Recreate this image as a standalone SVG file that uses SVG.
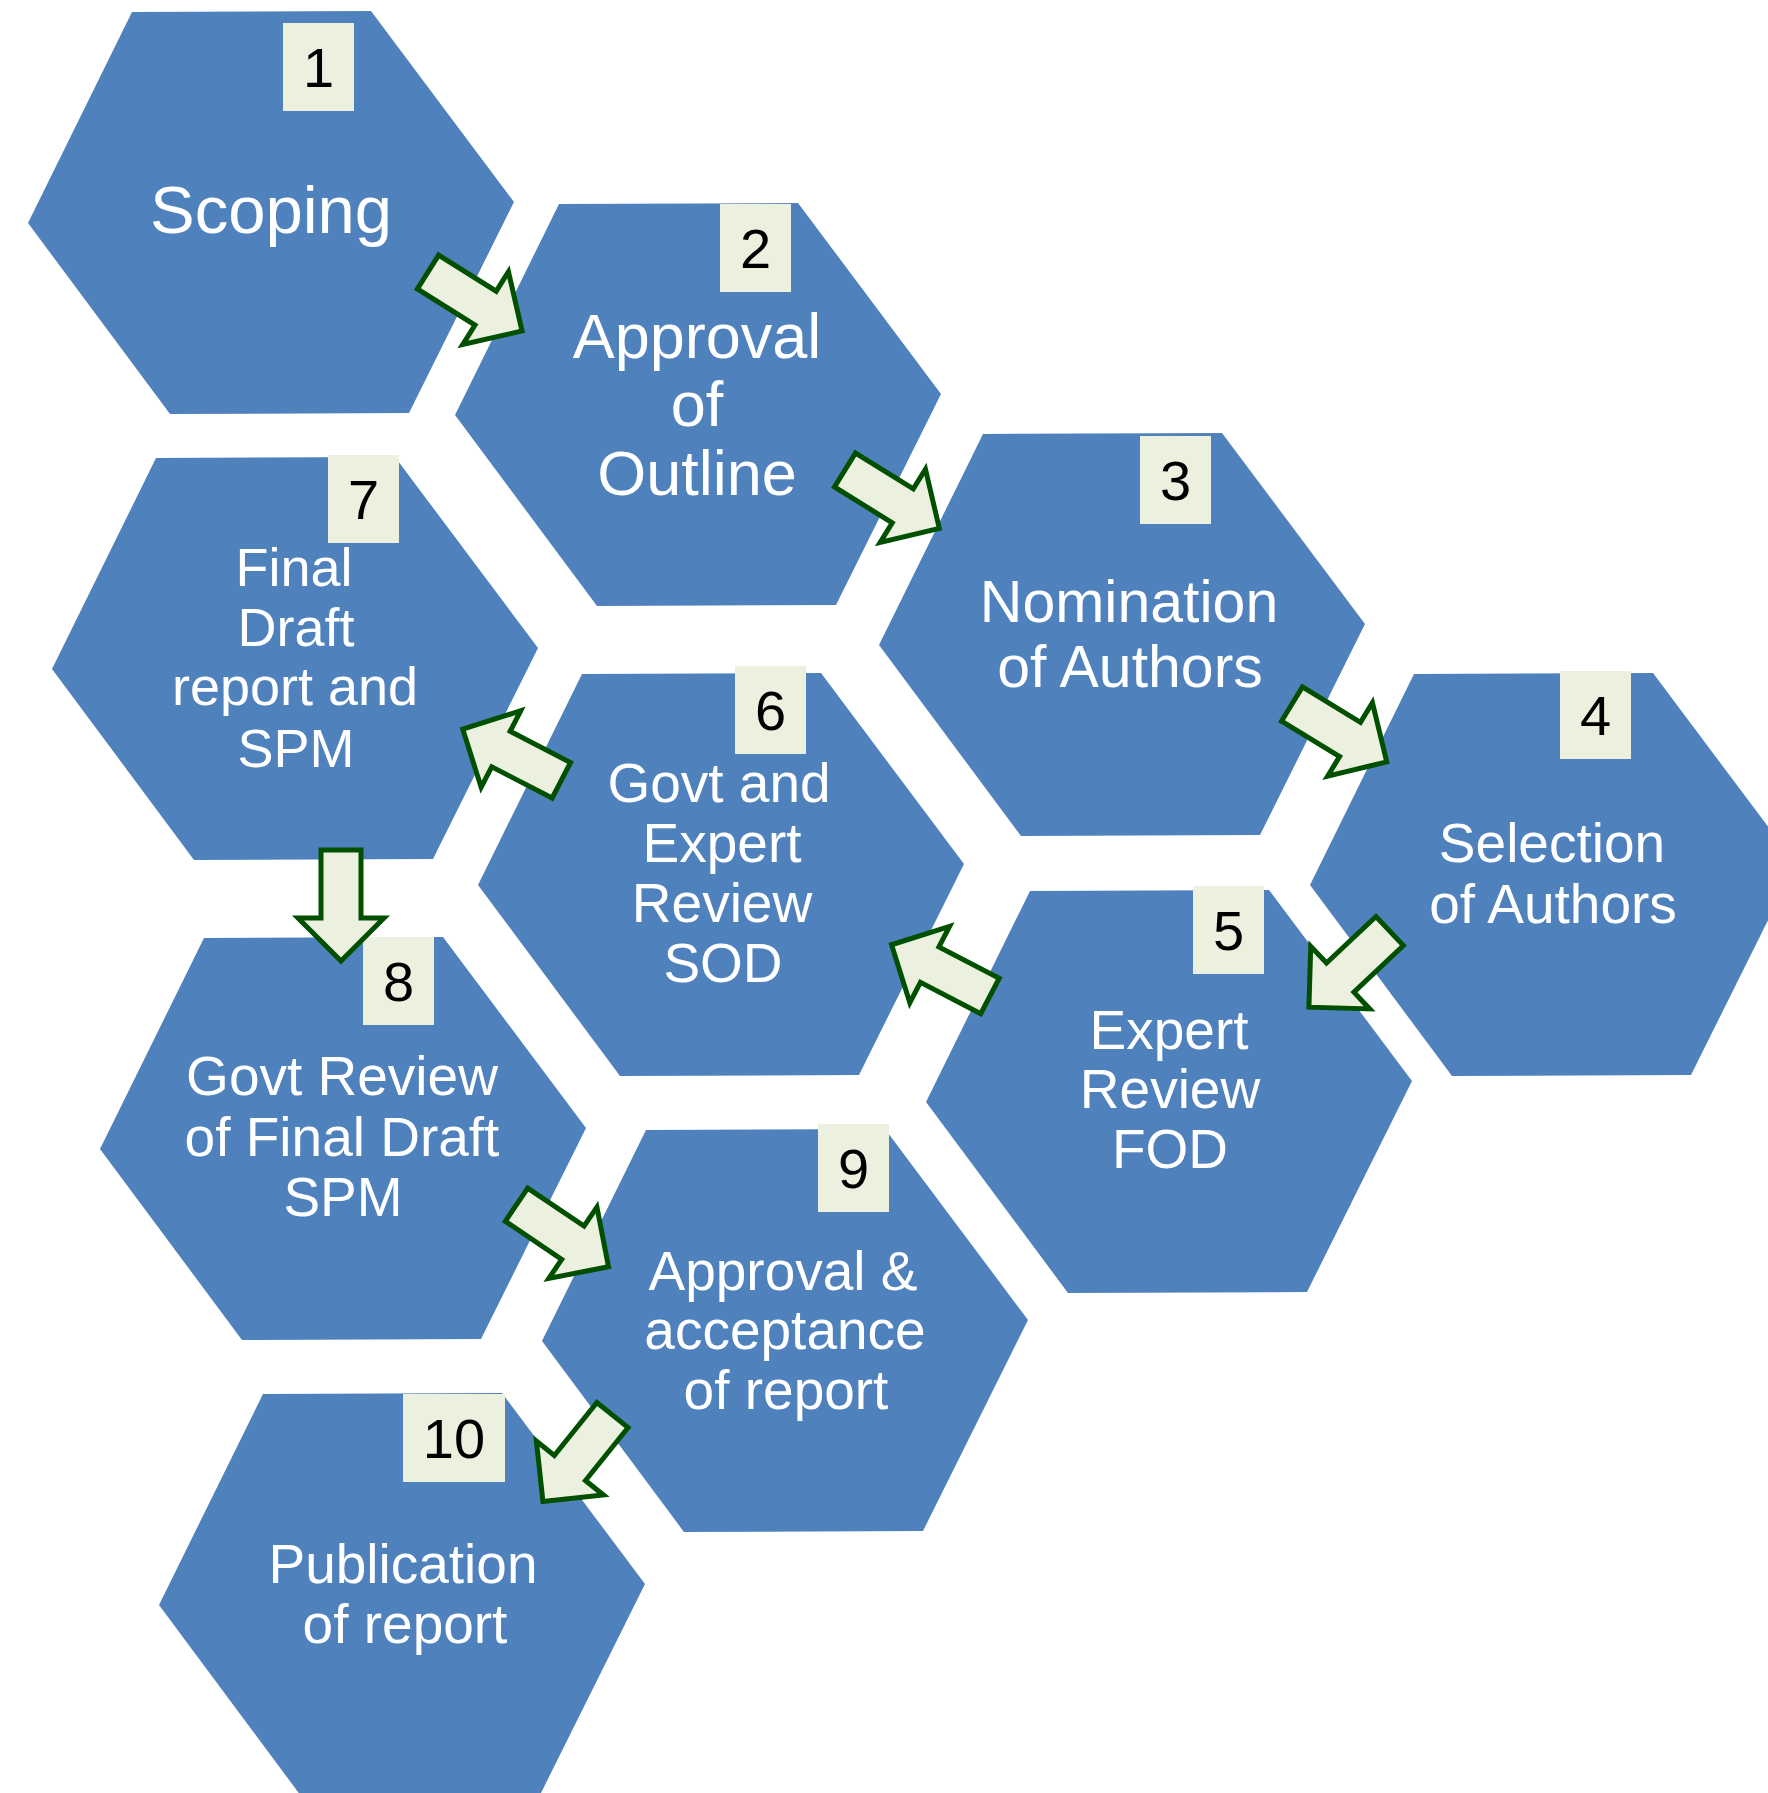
<svg xmlns="http://www.w3.org/2000/svg" xmlns:xlink="http://www.w3.org/1999/xlink" width="1768" height="1793" viewBox="0 0 1768 1793">
<style>
.hex{fill:#4F81BD}
.box{fill:#EBF1DE}
.num{font-family:"Liberation Sans",Arial,sans-serif;font-size:56px;fill:#000;text-anchor:middle}
.lbl{font-family:"Liberation Sans",Arial,sans-serif;fill:#fff;text-anchor:middle}
.arr{fill:#EBF1DE;stroke:#005000;stroke-width:5;stroke-linejoin:miter}
</style>
<defs>
<polygon id="hexshape" points="0,0 239,-1 382,190 277,401 38,402 -104,211"/>
<polygon id="arrowshape" points="0,-20 68,-20 68,-43 111,0 68,43 68,20 0,20"/>
</defs>
<rect width="1768" height="1793" fill="#fff"/>
<g id="node1">
<use xlink:href="#hexshape" href="#hexshape" class="hex" transform="translate(132,12)"/>
<rect class="box" x="283" y="23" width="71" height="88"/>
<text class="num" x="318.5" y="87">1</text>
<text class="lbl" font-size="67" x="271" y="233">Scoping</text>
</g>
<g id="node2">
<use xlink:href="#hexshape" href="#hexshape" class="hex" transform="translate(559,204)"/>
<rect class="box" x="720" y="204" width="71" height="88"/>
<text class="num" x="755.5" y="268">2</text>
<text class="lbl" font-size="63" x="697" y="358">Approval</text>
<text class="lbl" font-size="63" x="697" y="426">of</text>
<text class="lbl" font-size="63" x="697" y="495">Outline</text>
</g>
<g id="node3">
<use xlink:href="#hexshape" href="#hexshape" class="hex" transform="translate(983,434)"/>
<rect class="box" x="1140" y="436" width="71" height="88"/>
<text class="num" x="1175.5" y="500">3</text>
<text class="lbl" font-size="59" x="1129" y="622">Nomination</text>
<text class="lbl" font-size="59" x="1130" y="687">of Authors</text>
</g>
<g id="node4">
<use xlink:href="#hexshape" href="#hexshape" class="hex" transform="translate(1414,674)"/>
<rect class="box" x="1560" y="671" width="71" height="88"/>
<text class="num" x="1595.5" y="735">4</text>
<text class="lbl" font-size="55" x="1552" y="862">Selection</text>
<text class="lbl" font-size="55" x="1553" y="923">of Authors</text>
</g>
<g id="node5">
<use xlink:href="#hexshape" href="#hexshape" class="hex" transform="translate(1030,891)"/>
<rect class="box" x="1193" y="886" width="71" height="88"/>
<text class="num" x="1228.5" y="950">5</text>
<text class="lbl" font-size="55" x="1169" y="1049">Expert</text>
<text class="lbl" font-size="55" x="1170" y="1108">Review</text>
<text class="lbl" font-size="55" x="1170" y="1168">FOD</text>
</g>
<g id="node6">
<use xlink:href="#hexshape" href="#hexshape" class="hex" transform="translate(582,674)"/>
<rect class="box" x="735" y="666" width="71" height="88"/>
<text class="num" x="770.5" y="730">6</text>
<text class="lbl" font-size="55" x="719" y="802">Govt and</text>
<text class="lbl" font-size="55" x="722" y="862">Expert</text>
<text class="lbl" font-size="55" x="722" y="922">Review</text>
<text class="lbl" font-size="55" x="723" y="982">SOD</text>
</g>
<g id="node7">
<use xlink:href="#hexshape" href="#hexshape" class="hex" transform="translate(156,458)"/>
<rect class="box" x="328" y="455" width="71" height="88"/>
<text class="num" x="363.5" y="519">7</text>
<text class="lbl" font-size="54" x="294" y="586">Final</text>
<text class="lbl" font-size="54" x="296" y="646">Draft</text>
<text class="lbl" font-size="54" x="295" y="705">report and</text>
<text class="lbl" font-size="54" x="296" y="767">SPM</text>
</g>
<g id="node8">
<use xlink:href="#hexshape" href="#hexshape" class="hex" transform="translate(204,938)"/>
<rect class="box" x="363" y="937" width="71" height="88"/>
<text class="num" x="398.5" y="1001">8</text>
<text class="lbl" font-size="55" x="342" y="1095">Govt Review</text>
<text class="lbl" font-size="55" x="342" y="1156">of Final Draft</text>
<text class="lbl" font-size="55" x="343" y="1216">SPM</text>
</g>
<g id="node9">
<use xlink:href="#hexshape" href="#hexshape" class="hex" transform="translate(646,1130)"/>
<rect class="box" x="818" y="1124" width="71" height="88"/>
<text class="num" x="853.5" y="1188">9</text>
<text class="lbl" font-size="55" x="783" y="1290">Approval &amp;</text>
<text class="lbl" font-size="55" x="785" y="1349">acceptance</text>
<text class="lbl" font-size="55" x="786" y="1409">of report</text>
</g>
<g id="node10">
<use xlink:href="#hexshape" href="#hexshape" class="hex" transform="translate(263,1394)"/>
<rect class="box" x="403" y="1394" width="102" height="88"/>
<text class="num" x="454" y="1458">10</text>
<text class="lbl" font-size="55" x="403" y="1583">Publication</text>
<text class="lbl" font-size="55" x="405" y="1643">of report</text>
</g>
<g id="connectors">
<use xlink:href="#arrowshape" href="#arrowshape" class="arr" transform="translate(428,272) rotate(32.1)"/>
<use xlink:href="#arrowshape" href="#arrowshape" class="arr" transform="translate(845,470) rotate(31.8)"/>
<use xlink:href="#arrowshape" href="#arrowshape" class="arr" transform="translate(1292,704) rotate(31.4)"/>
<use xlink:href="#arrowshape" href="#arrowshape" class="arr" transform="translate(1389.7,931) rotate(136.7)"/>
<use xlink:href="#arrowshape" href="#arrowshape" class="arr" transform="translate(990,996) rotate(207.5)"/>
<use xlink:href="#arrowshape" href="#arrowshape" class="arr" transform="translate(561.3,780.3) rotate(207.4)"/>
<use xlink:href="#arrowshape" href="#arrowshape" class="arr" transform="translate(341,850) rotate(90)"/>
<use xlink:href="#arrowshape" href="#arrowshape" class="arr" transform="translate(516.5,1204.7) rotate(34)"/>
<use xlink:href="#arrowshape" href="#arrowshape" class="arr" transform="translate(612.5,1415) rotate(128.8)"/>
</g>
</svg>
